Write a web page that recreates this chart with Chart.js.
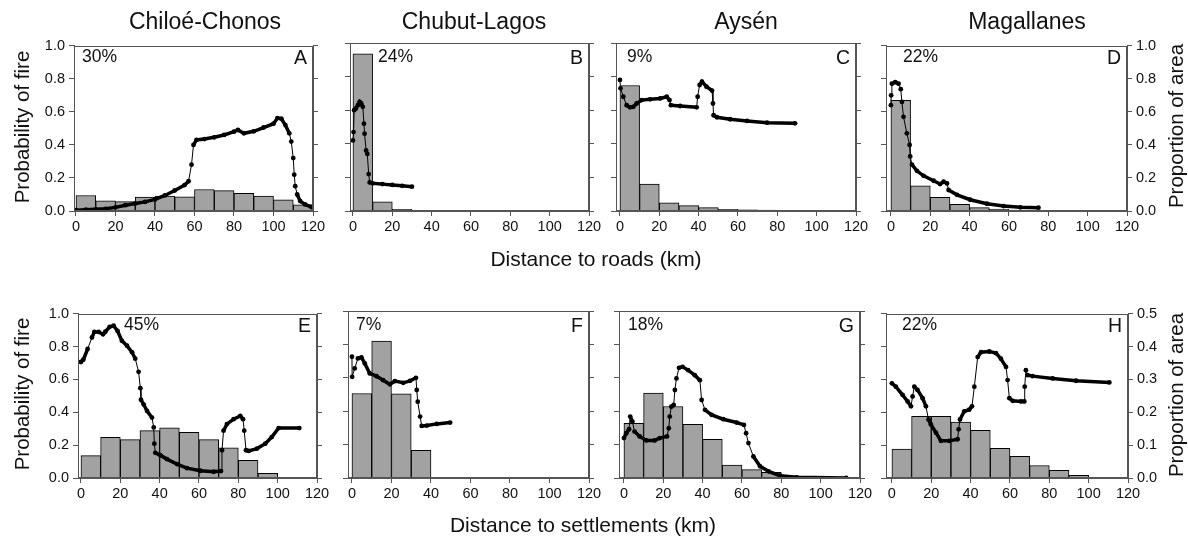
<!DOCTYPE html>
<html>
<head>
<meta charset="utf-8">
<script src="https://cdn.jsdelivr.net/npm/chart.js@4.4.0/dist/chart.umd.min.js"></script>
<style>
  body { margin: 0; width: 1188px; height: 541px; background: #fff; position: relative; overflow: hidden;
         font-family: "Liberation Sans", Arial, sans-serif; color: #111; }
  canvas { position: absolute; }
  .lbl { position: absolute; white-space: nowrap; line-height: 1; transform: translate(-50%, -50%); }
  .vert { transform: translate(-50%, -50%) rotate(-90deg); }
</style>
</head>
<body>
<script>
// tick labels
var xTicks = [0, 20, 40, 60, 80, 100, 120];
var probTicks = [0, 0.2, 0.4, 0.6, 0.8, 1.0];
var areaTicksRoads = [0, 0.2, 0.4, 0.6, 0.8, 1.0];
var areaTicksSettl = [0, 0.1, 0.2, 0.3, 0.4, 0.5];

// 10 km distance classes (centres)
var binCenters = [5, 15, 25, 35, 45, 55, 65, 75, 85, 95, 105, 115];

var regions = ['Chiloé-Chonos', 'Chubut-Lagos', 'Aysén', 'Magallanes'];
var letters = ['A', 'B', 'C', 'D', 'E', 'F', 'G', 'H'];
var percents = ['30%', '24%', '9%', '22%', '45%', '7%', '18%', '22%'];

// proportion of area in each distance class
var areaA = [0.094, 0.062, 0.057, 0.084, 0.09, 0.086, 0.13, 0.123, 0.107, 0.09, 0.068, 0.038];
var areaB = [0.935, 0.054, 0.01];
var areaC = [0.747, 0.16, 0.048, 0.032, 0.02, 0.01, 0.007, 0.005, 0.002];
var areaD = [0.67, 0.153, 0.082, 0.04, 0.02, 0.012, 0.006, 0.002];
var areaE = [0.068, 0.124, 0.117, 0.144, 0.153, 0.139, 0.117, 0.092, 0.054, 0.014];
var areaF = [0.253, 0.41, 0.252, 0.083, 0.002];
var areaG = [0.164, 0.254, 0.214, 0.161, 0.116, 0.039, 0.025, 0.017, 0.003];
var areaH = [0.088, 0.188, 0.188, 0.17, 0.145, 0.09, 0.066, 0.038, 0.023, 0.008];

// probability of fire vs distance, [km, p]
var fireA = [[0,0.005],[5,0.008],[10,0.01],[15,0.013],[20,0.022],[25,0.035],[30,0.045],[35,0.055],[40,0.07],
  [45,0.094],[50,0.124],[55,0.157],[57,0.18],[58.5,0.28],[59.5,0.4],[61,0.43],[65,0.435],[70,0.446],[75,0.46],
  [80,0.48],[82,0.49],[85,0.47],[90,0.482],[95,0.505],[100,0.528],[102,0.562],[104,0.558],[106,0.52],[108,0.47],
  [109,0.42],[110,0.32],[110.5,0.22],[111,0.15],[112,0.1],[113.5,0.06],[116,0.04],[119,0.025],[120,0.02]];
var fireB = [[0,0.42],[0.3,0.47],[0.6,0.6],[1.5,0.61],[2.5,0.63],[3.4,0.65],[4.2,0.64],[5,0.62],[5.6,0.52],
  [5.9,0.46],[6.7,0.36],[7.3,0.34],[8,0.22],[8.5,0.17],[10,0.165],[15,0.16],[20,0.155],[25,0.15],[30,0.145]];
var fireC = [[0,0.78],[0.3,0.73],[1.7,0.68],[3.4,0.63],[5.1,0.617],[6.8,0.62],[8.5,0.64],[11,0.66],[15.3,0.665],
  [20.4,0.67],[23.8,0.68],[25.2,0.66],[25.9,0.63],[30.6,0.625],[39,0.617],[39.5,0.68],[40.5,0.75],[41.7,0.77],
  [44,0.74],[46.8,0.717],[47.3,0.64],[47.6,0.57],[49.3,0.558],[56,0.546],[64.6,0.536],[74.8,0.526],[89,0.522]];
var fireD = [[0,0.64],[0.1,0.7],[0.5,0.77],[2.2,0.78],[3.9,0.77],[5,0.737],[5.6,0.66],[6.4,0.57],[8.1,0.47],
  [9.5,0.4],[9.8,0.33],[10.7,0.28],[13.2,0.243],[16.6,0.213],[21.7,0.183],[25,0.163],[26.8,0.177],[28.5,0.167],
  [29.3,0.127],[33.6,0.098],[40.3,0.068],[48.8,0.044],[57.3,0.03],[65.8,0.022],[75,0.02]];
var fireE = [[0,0.706],[1.2,0.72],[3.4,0.785],[5.6,0.855],[6.8,0.889],[9,0.889],[11.2,0.875],[12.4,0.89],
  [14.6,0.92],[16.6,0.927],[18.6,0.895],[20.8,0.835],[23.4,0.805],[26,0.765],[27.6,0.726],[29.3,0.646],
  [30.2,0.547],[30.5,0.477],[31.9,0.447],[33.6,0.408],[36.1,0.368],[37,0.308],[37.3,0.209],[37.8,0.153],
  [40.3,0.139],[43.7,0.115],[48.8,0.085],[53.9,0.06],[60.7,0.044],[67.5,0.038],[71.2,0.042],[71.7,0.169],
  [72.5,0.288],[74.2,0.328],[77.6,0.358],[81,0.378],[82.4,0.358],[83,0.288],[83.9,0.169],[85.3,0.165],
  [89.5,0.179],[93.7,0.209],[97,0.249],[100.5,0.304],[111,0.304]];
var fireF = [[0,0.726],[0.1,0.606],[1.4,0.656],[3,0.716],[4.8,0.722],[6.5,0.686],[9,0.626],[12.4,0.61],
  [15.8,0.586],[19.2,0.561],[21.7,0.58],[26,0.57],[29.4,0.582],[32.4,0.6],[32.8,0.527],[33.3,0.457],
  [34.5,0.368],[35.3,0.312],[37.9,0.314],[43,0.324],[49.7,0.332]];
var fireG = [[0,0.239],[1.2,0.268],[2.6,0.292],[3.2,0.368],[4.3,0.338],[5.4,0.278],[8,0.249],[11.4,0.225],
  [15.6,0.225],[18.2,0.239],[21.9,0.249],[22.8,0.298],[23.3,0.368],[24.1,0.427],[25.3,0.437],[25.9,0.527],
  [26.7,0.596],[28,0.66],[29.8,0.666],[32.6,0.646],[36,0.616],[38.6,0.586],[39.5,0.467],[41.2,0.408],
  [44.6,0.378],[50.5,0.352],[57.3,0.332],[61,0.318],[62.1,0.268],[63.3,0.209],[65.8,0.129],[69.2,0.07],
  [73.5,0.04],[79.4,0.014],[87.9,0.004],[113,0.0]];
var fireH = [[0,0.576],[2,0.556],[5.4,0.506],[8,0.466],[9.7,0.436],[10.5,0.496],[11.4,0.556],[13,0.536],
  [15.6,0.486],[17.3,0.436],[18.6,0.356],[19.8,0.326],[22.4,0.276],[24.9,0.226],[29.2,0.226],[33.4,0.236],
  [33.9,0.296],[34.6,0.356],[36.8,0.406],[39.3,0.416],[40.7,0.436],[41.9,0.556],[43.6,0.736],[45.3,0.766],
  [49.5,0.77],[52.9,0.76],[55.4,0.726],[58,0.676],[58.8,0.596],[59.7,0.486],[61.4,0.47],[65.6,0.466],
  [67.3,0.466],[67.5,0.556],[68.1,0.656],[69,0.626],[71.5,0.62],[81.7,0.606],[93.6,0.592],[110.5,0.582]];

var areas = [areaA, areaB, areaC, areaD, areaE, areaF, areaG, areaH];
var fires = [fireA, fireB, fireC, fireD, fireE, fireF, fireG, fireH];

// plot boxes on the page: left, top, width, height; xMin = start of x axis; pctDx = offset of % label
var panels = [
  { x: 74,  y: 43,  w: 239, h: 168, xMin: -1,   pctDx: 8 },
  { x: 350, y: 43,  w: 239, h: 168, xMin: -1.5, pctDx: 28 },
  { x: 616, y: 43,  w: 240, h: 168, xMin: -2,   pctDx: 11 },
  { x: 886, y: 43,  w: 241, h: 168, xMin: -2.5, pctDx: 17 },
  { x: 78,  y: 311, w: 239, h: 167, xMin: -1.5, pctDx: 46 },
  { x: 348, y: 311, w: 241, h: 167, xMin: -2,   pctDx: 8 },
  { x: 619, y: 311, w: 241, h: 167, xMin: -2.5, pctDx: 9 },
  { x: 886, y: 311, w: 242, h: 167, xMin: -3,   pctDx: 16 }
];

var FONT = '"Liberation Sans", Arial, sans-serif';
var frameColor = '#555';

function label(text, x, y, size, vertical) {
  var d = document.createElement('div');
  d.className = 'lbl' + (vertical ? ' vert' : '');
  d.textContent = text;
  d.style.left = x + 'px';
  d.style.top = y + 'px';
  d.style.fontSize = size + 'px';
  document.body.appendChild(d);
  return d;
}

var framePlugin = {
  id: 'frame',
  afterDraw: function (chart) {
    var a = chart.chartArea, ctx = chart.ctx;
    ctx.save();
    ctx.strokeStyle = frameColor;
    ctx.lineWidth = 1;
    ctx.strokeRect(Math.round(a.left) + 0.5, Math.round(a.top) + 0.5,
                   Math.round(a.right - a.left) - 1, Math.round(a.bottom - a.top) - 1);
    ctx.restore();
  }
};

function fixedTicks(list) {
  return function (s) { s.ticks = list.map(function (v) { return { value: v }; }); };
}

// thick trace on gentle stretches, thin connector on near-vertical jumps
function segWidth(ctx) {
  var dx = Math.abs(ctx.p1.x - ctx.p0.x), dy = Math.abs(ctx.p1.y - ctx.p0.y);
  return dy > 2.5 * dx ? 1 : 3.5;
}

panels.forEach(function (p, i) {
  var row = Math.floor(i / 4), col = i % 4;
  var padL = 50, padR = 50, padT = 10, padB = 40;
  var c = document.createElement('canvas');
  c.width = p.w + padL + padR;
  c.height = p.h + padT + padB;
  c.style.left = (p.x - padL) + 'px';
  c.style.top = (p.y - padT) + 'px';
  document.body.appendChild(c);

  var tickFont = { family: FONT, size: 14.5 };
  var axisBits = {
    grid: { drawOnChartArea: false, drawTicks: true, tickLength: 5, color: frameColor, offset: false },
    border: { color: frameColor, width: 1 }
  };

  new Chart(c, {
    type: 'bar',
    data: {
      datasets: [
        {
          type: 'line',
          data: fires[i].map(function (d) { return { x: d[0], y: d[1] }; }),
          yAxisID: 'y',
          order: 0,
          borderColor: '#000',
          borderWidth: 3.5,
          segment: { borderWidth: segWidth },
          pointRadius: 2.4,
          pointBackgroundColor: '#000',
          pointBorderWidth: 0,
          tension: 0,
          fill: false
        },
        {
          type: 'bar',
          data: areas[i].map(function (v, k) { return { x: binCenters[k], y: v }; }),
          yAxisID: 'y2',
          order: 1,
          backgroundColor: '#a2a2a2',
          borderColor: '#000',
          borderWidth: 1,
          barPercentage: 1,
          categoryPercentage: 1
        }
      ]
    },
    options: {
      responsive: false,
      animation: false,
      devicePixelRatio: 1,
      layout: { padding: { top: padT, left: 0, right: 0, bottom: 0 } },
      plugins: { legend: { display: false }, tooltip: { enabled: false } },
      scales: {
        x: Object.assign({
          type: 'linear', position: 'bottom', min: p.xMin, max: 120, offset: false,
          afterBuildTicks: fixedTicks(xTicks),
          afterFit: function (s) { s.height = padB; },
          ticks: { color: '#111', font: tickFont, padding: 2, maxRotation: 0, autoSkip: false }
        }, axisBits),
        y: Object.assign({
          type: 'linear', position: 'left', min: 0, max: 1,
          afterBuildTicks: fixedTicks(probTicks),
          afterFit: function (s) { s.width = padL; },
          ticks: { display: col === 0, color: '#111', font: tickFont, padding: 4,
                   callback: function (v) { return v.toFixed(1); } }
        }, axisBits),
        y2: Object.assign({
          type: 'linear', position: 'right', min: 0, max: row === 0 ? 1 : 0.5,
          afterBuildTicks: fixedTicks(row === 0 ? areaTicksRoads : areaTicksSettl),
          afterFit: function (s) { s.width = padR; },
          ticks: { display: col === 3, color: '#111', font: tickFont, padding: 4,
                   callback: function (v) { return v.toFixed(1); } }
        }, axisBits)
      }
    },
    plugins: [framePlugin]
  });

  // in-plot labels
  var pct = label(percents[i], 0, p.y + 14, 17.5, false);
  pct.style.transform = 'translate(0, -50%)';
  pct.style.left = (p.x + p.pctDx) + 'px';
  var let_ = label(letters[i], 0, p.y + 15, 19.5, false);
  let_.style.transform = 'translate(-100%, -50%)';
  let_.style.left = (p.x + p.w - 6) + 'px';
});

// column titles
var titleX = [205, 474, 746, 1027];
regions.forEach(function (r, k) { label(r, titleX[k], 21, 23, false); });

// axis titles
label('Probability of fire', 22, 127, 20.5, true);
label('Probability of fire', 22, 394, 20.5, true);
label('Proportion of area', 1176, 126, 20.5, true);
label('Proportion of area', 1176, 395, 20.5, true);
label('Distance to roads (km)', 596, 258, 21, false);
label('Distance to settlements (km)', 583, 524, 21, false);
</script>
</body>
</html>
